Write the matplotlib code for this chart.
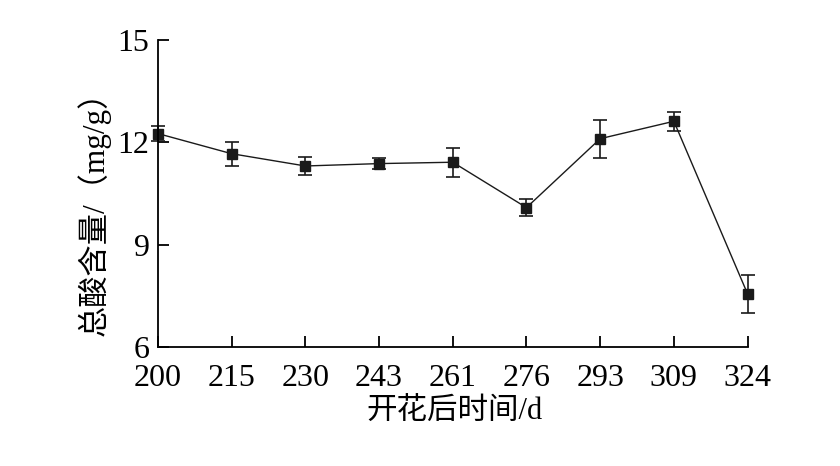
import matplotlib.pyplot as plt

days = ['200', '215', '230', '243', '261', '276', '293', '309', '324']
acid = [12.26, 11.67, 11.31, 11.38, 11.42, 10.09, 12.11, 12.62, 7.56]
err = [0.23, 0.35, 0.25, 0.16, 0.42, 0.26, 0.56, 0.28, 0.56]

plt.rcParams['font.family'] = ['Liberation Serif', 'Noto Sans CJK SC']

fig = plt.figure(figsize=(8.4, 4.66), dpi=100)
ax = fig.add_axes([0.188, 0.255, 0.702, 0.659])

x = list(range(len(days)))
ax.errorbar(x, acid, yerr=err, color='#1a1a1a', lw=1, marker='s', ms=7.5,
            capsize=5, elinewidth=1.2, capthick=1.2, clip_on=False)

ax.set_xlim(0, len(days) - 1)
ax.set_ylim(6, 15)
ax.set_xticks(x)
ax.set_xticklabels(days)
ax.set_yticks([6, 9, 12, 15])
ax.tick_params(direction='in', length=8, width=1.3, labelsize=23)
ax.tick_params(axis='x', pad=12)
ax.tick_params(axis='y', pad=6)

ax.spines['top'].set_visible(False)
ax.spines['right'].set_visible(False)
ax.spines['left'].set_linewidth(1.3)
ax.spines['bottom'].set_linewidth(1.3)

ax.set_xlabel('开花后时间/d', fontsize=22, fontweight='light', va='top')
ax.set_ylabel('总酸含量/（mg/g）', fontsize=22.5, fontweight='light')
ax.xaxis.set_label_coords(0.503, -0.165)
ax.yaxis.set_label_coords(-0.08, 0.46)

fig.savefig('out.png')
